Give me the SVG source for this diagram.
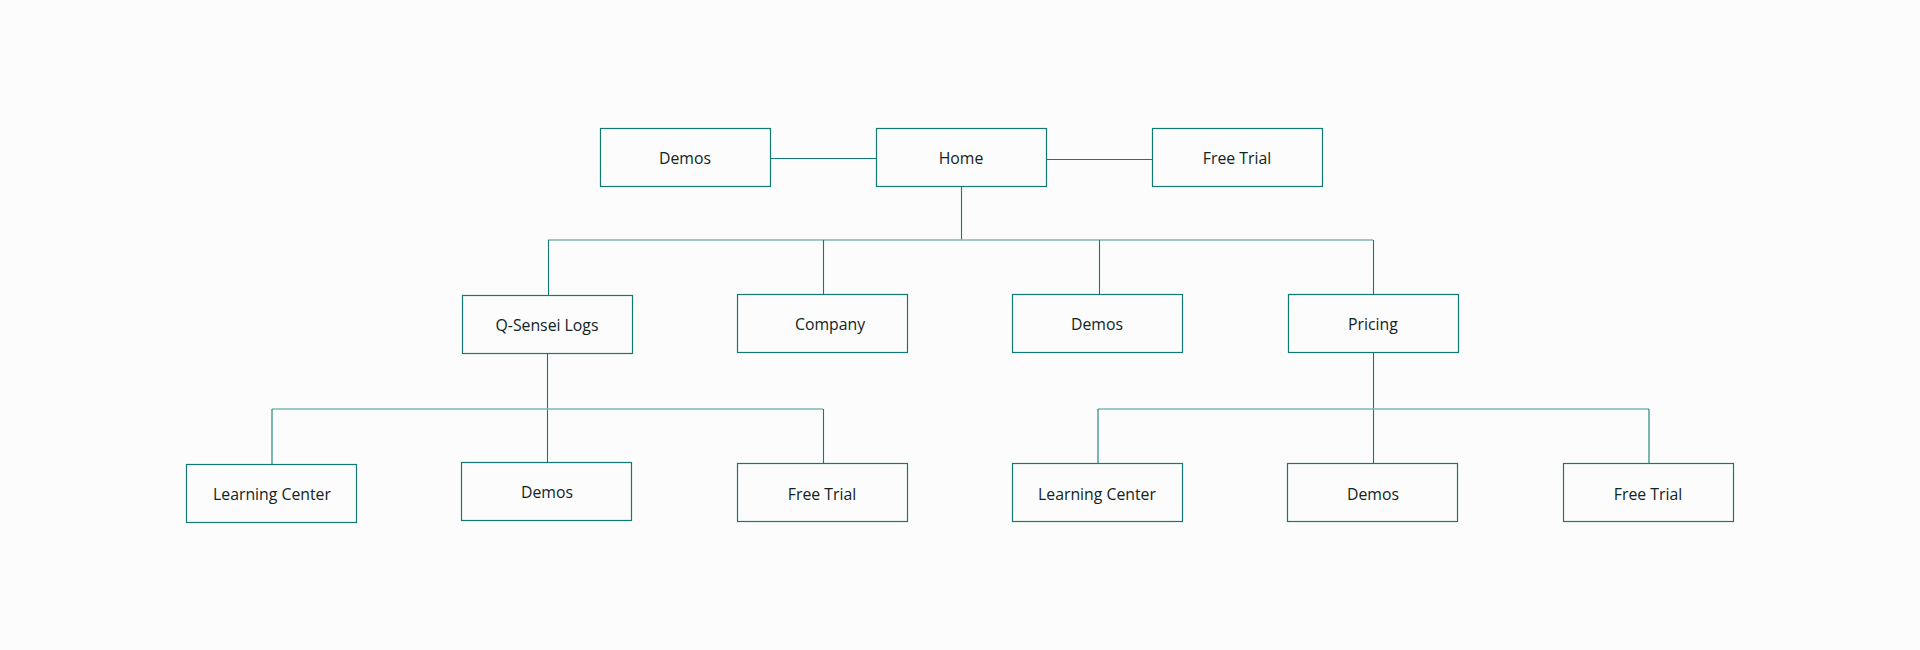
<svg xmlns="http://www.w3.org/2000/svg" width="1920" height="650" viewBox="0 0 1920 650">
<style>
.node rect{fill:none;stroke:#137a73;stroke-width:1.2}
.node text{font-family:"Open Sans","Noto Sans",sans-serif;font-size:15.8px;fill:#102424;text-anchor:middle;dominant-baseline:central}
.conn line{stroke:#137a73;stroke-width:1.1}
.conn .bus{stroke:#7fb8b3;stroke-width:1.4}
</style>
<rect width="1920" height="650" fill="#fcfcfc"/>
<g class="conn">
<line x1="770" y1="158.5" x2="876" y2="158.5"/>
<line x1="1046" y1="159.5" x2="1152" y2="159.5"/>
<line x1="961.5" y1="186" x2="961.5" y2="240"/>
<line class="bus" x1="548" y1="240" x2="1373" y2="240"/>
<line x1="548.5" y1="240" x2="548.5" y2="295"/>
<line x1="823.5" y1="240" x2="823.5" y2="294"/>
<line x1="1099.5" y1="240" x2="1099.5" y2="294"/>
<line x1="1373.5" y1="240" x2="1373.5" y2="294"/>
<line x1="547.5" y1="353" x2="547.5" y2="462"/>
<line class="bus" x1="272" y1="409" x2="823" y2="409"/>
<line x1="272" y1="409" x2="272" y2="464"/>
<line x1="823.5" y1="409" x2="823.5" y2="463"/>
<line x1="1373.5" y1="352" x2="1373.5" y2="463"/>
<line class="bus" x1="1098" y1="409" x2="1649" y2="409"/>
<line x1="1098" y1="409" x2="1098" y2="463"/>
<line x1="1649" y1="409" x2="1649" y2="463"/>
</g>
<g id="n-demos-top" class="node"><rect x="600.5" y="128.5" width="170" height="58"/><text x="685" y="158">Demos</text></g>
<g id="n-home" class="node"><rect x="876.5" y="128.5" width="170" height="58"/><text x="961" y="158">Home</text></g>
<g id="n-freetrial-top" class="node"><rect x="1152.5" y="128.5" width="170" height="58"/><text x="1237" y="158">Free Trial</text></g>
<g id="n-qsensei" class="node"><rect x="462.5" y="295.5" width="170" height="58"/><text x="547" y="325">Q-Sensei Logs</text></g>
<g id="n-company" class="node"><rect x="737.5" y="294.5" width="170" height="58"/><text x="830" y="324">Company</text></g>
<g id="n-demos-mid" class="node"><rect x="1012.5" y="294.5" width="170" height="58"/><text x="1097" y="324">Demos</text></g>
<g id="n-pricing" class="node"><rect x="1288.5" y="294.5" width="170" height="58"/><text x="1373" y="324">Pricing</text></g>
<g id="n-lc-left" class="node"><rect x="186.5" y="464.5" width="170" height="58"/><text x="272" y="494">Learning Center</text></g>
<g id="n-demos-left" class="node"><rect x="461.5" y="462.5" width="170" height="58"/><text x="547" y="492">Demos</text></g>
<g id="n-ft-left" class="node"><rect x="737.5" y="463.5" width="170" height="58"/><text x="822" y="494">Free Trial</text></g>
<g id="n-lc-right" class="node"><rect x="1012.5" y="463.5" width="170" height="58"/><text x="1097" y="494">Learning Center</text></g>
<g id="n-demos-right" class="node"><rect x="1287.5" y="463.5" width="170" height="58"/><text x="1373" y="494">Demos</text></g>
<g id="n-ft-right" class="node"><rect x="1563.5" y="463.5" width="170" height="58"/><text x="1648" y="494">Free Trial</text></g>
</svg>
